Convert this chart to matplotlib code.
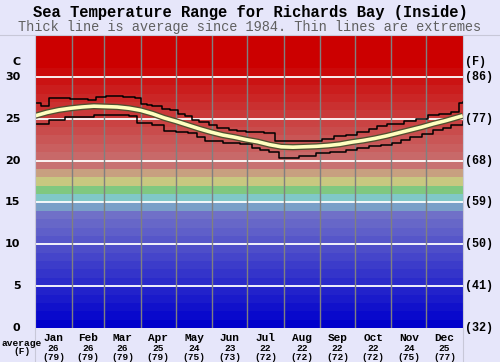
#!/usr/bin/env python3
"""Sea temperature range chart for Richards Bay (Inside)."""

import numpy as np
import matplotlib
matplotlib.use("Agg")
import matplotlib.pyplot as plt
from matplotlib.colors import to_rgb

# ---- data ----
months = ["Jan", "Feb", "Mar", "Apr", "May", "Jun",
          "Jul", "Aug", "Sep", "Oct", "Nov", "Dec"]
month_days = [31, 28, 31, 30, 31, 30, 31, 31, 30, 31, 30, 31]
month_avg_c = [26, 26, 26, 25, 24, 23, 22, 22, 22, 22, 24, 25]
month_avg_f = [79, 79, 79, 79, 75, 73, 72, 72, 72, 72, 75, 77]

avg_day = [0, 10, 20, 30, 40, 50, 60, 70, 80, 90, 100, 110, 120, 130, 140,
           150, 160, 170, 180, 190, 200, 210, 220, 230, 240, 250, 260, 270,
           280, 290, 300, 310, 320, 330, 340, 350, 360, 365]
avg_temp = [25.35, 25.75, 26.05, 26.25, 26.4, 26.5, 26.45, 26.4, 26.25, 26.0,
            25.6, 25.1, 24.7, 24.25, 23.8, 23.4, 23.05, 22.8, 22.5, 22.25,
            21.9, 21.65, 21.6, 21.65, 21.7, 21.8, 21.95, 22.2, 22.4, 22.65,
            22.95, 23.3, 23.65, 24.0, 24.4, 24.75, 25.15, 25.35]

max_day = [0, 5, 12, 30, 45, 52, 60, 75, 85, 90, 95, 100, 108, 115, 122, 128,
           134, 140, 148, 155, 165, 172, 180, 195, 205, 235, 245, 255, 265,
           275, 285, 292, 300, 315, 325, 335, 345, 355, 362, 365]
max_temp = [26.9, 26.5, 27.5, 27.4, 27.2, 27.6, 27.7, 27.6, 27.5, 26.8, 26.6,
            26.5, 26.2, 26.0, 25.6, 25.3, 24.9, 24.6, 24.2, 23.9, 23.6, 23.5,
            23.4, 23.3, 22.3, 22.3, 22.6, 22.9, 23.1, 23.4, 23.8, 24.1, 24.4,
            24.7, 25.0, 25.4, 25.6, 25.8, 26.9, 27.0]

min_day = [0, 12, 25, 50, 80, 87, 100, 110, 120, 130, 138, 145, 160, 175,
           185, 192, 200, 208, 225, 240, 252, 265, 275, 285, 295, 305, 312,
           320, 330, 340, 348, 355, 365]
min_temp = [24.4, 24.9, 25.25, 25.4, 25.3, 24.5, 24.3, 23.5, 23.4, 23.3, 22.8,
            22.3, 22.1, 22.0, 21.5, 21.3, 21.0, 20.3, 20.5, 20.85, 21.0, 21.25,
            21.5, 21.7, 21.9, 22.05, 22.4, 22.8, 23.2, 23.6, 23.9, 24.2, 24.65]

c_ticks = [0, 5, 10, 15, 20, 25, 30]
f_ticks = ["(32)", "(41)", "(50)", "(59)", "(68)", "(77)", "(86)"]

# ---- styling ----
BG = "#e6e6fa"
MONO = "Liberation Mono"


def band_colors():
    # one colour per 1 degree band, blue at the bottom to red at the top
    blue_lo, blue_hi = np.array(to_rgb("#0000cc")), np.array(to_rgb("#7070c8"))
    red_lo, red_hi = np.array(to_rgb("#c87272")), np.array(to_rgb("#cc0000"))
    cols = []
    for i in range(14):
        cols.append(blue_lo + (blue_hi - blue_lo) * i / 13)
    cols += [to_rgb(c) for c in ["#7aa0c8", "#80c8c8", "#80c880",
                                 "#c8c880", "#c8a080"]]
    for i in range(13):
        cols.append(red_lo + (red_hi - red_lo) * i / 12)
    cols += [to_rgb("#cc0000")] * 3
    return cols


fig = plt.figure(figsize=(5.0, 3.62), dpi=100, facecolor=BG)
ax = fig.add_axes([0.0706, 0.0939, 0.8548, 0.8094])

for i, col in enumerate(band_colors()):
    ax.axhspan(i, i + 1, color=col, lw=0, zorder=0)

for t in c_ticks[1:]:
    ax.axhline(t, color="white", lw=1.3, zorder=1)

edges = np.cumsum([0] + month_days)
for e in edges[1:-1]:
    ax.axvline(e, color="#808080", lw=1.0, zorder=1)

ax.plot(max_day, max_temp, color="black", lw=1.1, drawstyle="steps-post", zorder=3)
ax.plot(min_day, min_temp, color="black", lw=1.1, drawstyle="steps-post", zorder=3)
ax.plot(avg_day, avg_temp, color="#505030", lw=4.5, solid_capstyle="butt", zorder=4)
ax.plot(avg_day, avg_temp, color="#ffffc0", lw=2.6, solid_capstyle="butt", zorder=5)

ax.set_xlim(0, 365)
ax.set_ylim(0, 35)
ax.set_xticks([])
ax.set_yticks([])
for s in ax.spines.values():
    s.set_visible(False)

# left (C) and right (F) labels
for t, f in zip(c_ticks, f_ticks):
    ax.text(-0.035, t, str(t), transform=ax.get_yaxis_transform(), ha="right",
            va="center", fontsize=8, fontweight="bold", family="DejaVu Sans")
    ax.text(1.006, t, f, transform=ax.get_yaxis_transform(), ha="left",
            va="center", fontsize=8.5, fontweight="bold", family=MONO)
ax.text(-0.035, 31.8, "C", transform=ax.get_yaxis_transform(), ha="right",
        va="center", fontsize=8, fontweight="bold", family="DejaVu Sans")
ax.text(1.006, 31.8, "(F)", transform=ax.get_yaxis_transform(), ha="left",
        va="center", fontsize=8.5, fontweight="bold", family=MONO)

# month labels with monthly averages below the plot
mids = edges[:-1] + np.array(month_days) / 2
for m, x, c, f in zip(months, mids, month_avg_c, month_avg_f):
    ax.text(x, -0.6, m, ha="center", va="top", fontsize=8, fontweight="bold",
            family=MONO, clip_on=False)
    ax.text(x, -1.9, str(c), ha="center", va="top", fontsize=6.8,
            fontweight="bold", family=MONO, clip_on=False)
    ax.text(x, -2.95, f"({f})", ha="center", va="top", fontsize=6.8,
            fontweight="bold", family=MONO, clip_on=False)
fig.text(0.044, 1 - 343 / 362, "average", ha="center", va="center",
         fontsize=6.8, fontweight="bold", family=MONO)
fig.text(0.044, 1 - 352 / 362, "(F)", ha="center", va="center",
         fontsize=6.8, fontweight="bold", family=MONO)

# frame lines around the plot area
fig.add_artist(plt.Line2D([0, 1], [0.9033, 0.9033], color="#c8c8d8", lw=0.8))
fig.add_artist(plt.Line2D([0.0706, 0.0706], [0, 0.9033], color="#c8c8d8", lw=0.8))
fig.add_artist(plt.Line2D([0.9254, 0.9254], [0, 0.9033], color="#c8c8d8", lw=0.8))

fig.text(0.5, 1 - 12 / 362, "Sea Temperature Range for Richards Bay (Inside)",
         ha="center", va="center", fontsize=11.2, fontweight="bold", family=MONO)
fig.text(0.5, 1 - 27 / 362,
         "Thick line is average since 1984. Thin lines are extremes",
         ha="center", va="center", fontsize=9.8, color="#606060", family=MONO)

fig.savefig("out.png", dpi=100, facecolor=BG)
